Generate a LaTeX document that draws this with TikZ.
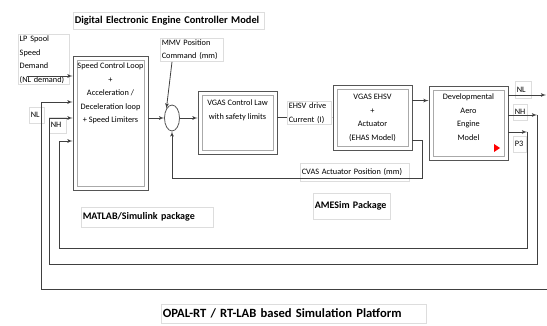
\documentclass[tikz,border=0pt]{standalone}
\usepackage{fontspec}
\setmainfont{Carlito}
\usetikzlibrary{arrows,positioning,shapes.geometric}
\definecolor{edgegray}{HTML}{555555}
\definecolor{innergray}{HTML}{AAAAAA}
\definecolor{linegray}{HTML}{404040}
\definecolor{boxgray}{HTML}{DDDDDD}
\tikzset{
  blk/.style={draw=edgegray,line width=0.9pt,inner sep=0pt,
    path picture={\draw[innergray,line width=0.7pt]
      ([shift={(4pt,-4pt)}]path picture bounding box.north west) rectangle
      ([shift={(-4pt,4pt)}]path picture bounding box.south east);}},
  sumpt/.style={ellipse,draw=edgegray,line width=0.8pt,minimum width=15pt,minimum height=26pt,inner sep=0pt},
  blktext/.style={font=\fontsize{8.3}{13.5}\selectfont,align=center,inner sep=0pt,anchor=north},
  tbox/.style={draw=boxgray,line width=0.5pt,font=\fontsize{8.3}{13.5}\selectfont,align=left,inner sep=1.5pt,anchor=north west},
  heading/.style={tbox,font=\fontsize{10}{11}\selectfont\bfseries},
  sig/.style={->,draw=linegray,line width=0.8pt}
}

\begin{document}
\begin{tikzpicture}[x=1pt,y=-1pt,>=latex']
        \useasboundingbox (0,0) rectangle (547,326);
        % Coordinates follow the pixel grid of the sketch, y pointing down.
        \node[blk,minimum width=75pt,minimum height=134pt] (spd) at (110.5,123) {};
        \node[blk,minimum width=79pt,minimum height=63pt] (law) at (237.5,122.5) {};
        \node[blk,minimum width=79pt,minimum height=65pt] (ehsv) at (372.5,117.5) {};
        \node[blk,minimum width=79pt,minimum height=74pt] (eng) at (468.5,123) {};
        \node[sumpt] (sum) at (172,118) {};
        \node[blktext] (spdtext) at (110.5,63) {Speed Control Loop\\+\\Acceleration /\\Deceleration loop\\+ Speed Limiters};
        \node[blktext] (lawtext) at (237.5,100) {VGAS Control Law\\with safety limits};
        \node[blktext] (ehsvtext) at (372.5,94) {VGAS EHSV\\+\\Actuator\\(EHAS Model)};
        \node[blktext] (engtext) at (468.5,94) {Developmental\\Aero\\Engine\\Model};
        \fill[red] (494,144) -- (500,148) -- (494,152) -- cycle;

        \node[heading,font=\fontsize{10.4}{12}\selectfont\bfseries,text width=188pt,minimum height=17pt] (title) at (73,12) {Digital Electronic Engine Controller Model};
        \node[tbox,text width=48pt] (demand) at (18,34) {LP Spool\\Speed\\Demand\\ (NL demand)};
        \node[tbox,text width=60pt] (mmv) at (160,38) {MMV Position\\Command (mm)};
        \node[tbox,text width=12pt,minimum height=16pt] (nlin) at (29,107) {NL};
        \node[tbox,text width=14pt,minimum height=16pt] (nhin) at (49,117) {NH};
        \node[tbox,text width=13pt,minimum height=17pt] (nlout) at (515,81) {NL};
        \node[tbox,text width=11pt,minimum height=16pt] (nhout) at (513,104) {NH};
        \node[tbox,text width=10pt,minimum height=16pt] (p3out) at (513,136) {P3};
        \node[tbox,text width=106pt,minimum height=18pt] (cvas) at (300,163) {CVAS Actuator Position (mm)};

        \coordinate (dmd) at (27,76);
        \coordinate (ehsvout) at ([yshift=-16pt]ehsv.north east);
        \coordinate (cvasout) at ([yshift=-56pt]ehsv.north east);
        \coordinate (cvasbend) at (422,178);
        \coordinate (nlend) at (546,95);
        \coordinate (nhbend) at (537,115);
        \coordinate (p3bend) at (527,132);
        \coordinate (nlret) at (547,289);
        \coordinate (nlfb) at (41,102);
        \coordinate (nhfb) at (49,118);
        \coordinate (p3fb) at (59,141);

        \draw[sig] (dmd) -- (dmd -| spd.west);
        \draw[sig] (spd.east |- sum.west) -- (sum.west);
        \draw[sig] (mmv.south -| sum) -- (sum.north west);
        \draw[sig] (sum.east) -- (sum.east -| law.west);
        \draw[sig] (law.east |- ehsv.west) -- (ehsv.west);
        \draw[sig] (ehsvout) -- (ehsvout -| eng.west);
        \draw[sig] (cvasout) -| (cvasbend) -| (sum.south);
        \draw[sig] (eng.east |- nlend) -- (nlend);
        \draw[sig] (eng.east |- nhbend) -- (nhbend);
        \draw[sig] (eng.east |- p3bend) -- (p3bend);
        \draw[sig] (nlret) -| (nlfb) -- (nlfb -| spd.west);
        \draw[sig] (nhbend) -- ++(0,149) -| (nhfb) -- (nhfb -| spd.west);
        \draw[sig] (p3bend) -- ++(0,116) -| (p3fb) -- (p3fb -| spd.west);

        \node[tbox,fill=white,text width=41pt] (ehsvlbl) at (287,101) {EHSV drive\\Current (I)};
        \node[heading,text width=129pt,minimum height=20pt] (matlab) at (81,207) {MATLAB/Simulink package};
        \node[heading,text width=74pt,minimum height=26pt] (amesim) at (313,193) {AMESim Package};
        \node[heading,font=\fontsize{12.6}{14}\selectfont\bfseries,text width=262pt,minimum height=19pt] (opal) at (161,304) {OPAL-RT / RT-LAB based Simulation Platform};
      \end{tikzpicture}
\end{document}
